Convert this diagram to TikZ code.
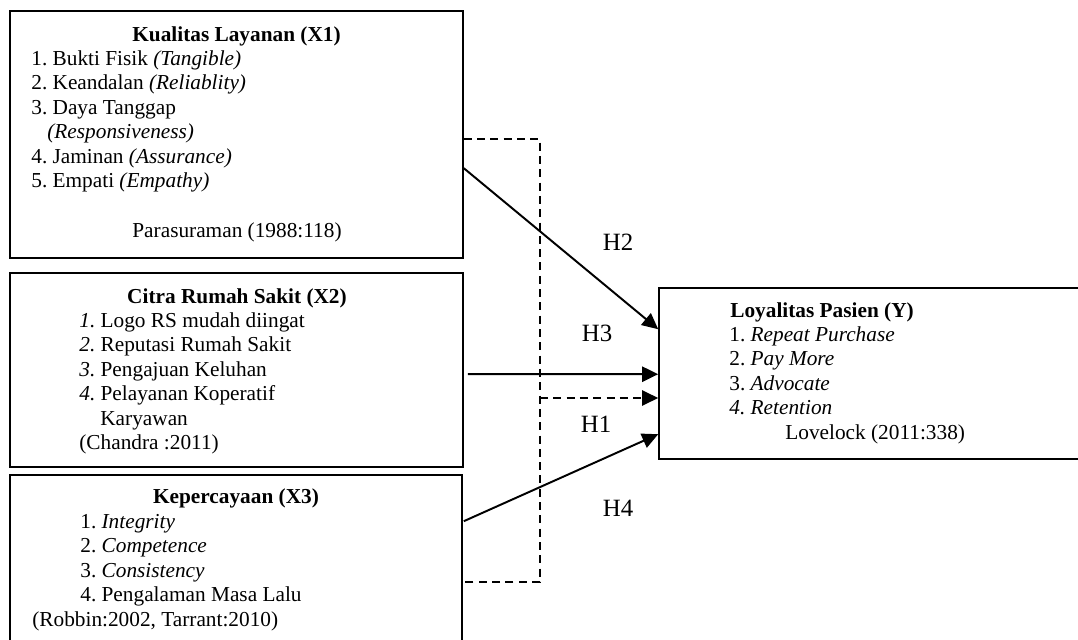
\documentclass[tikz,border=0pt]{standalone}
\usepackage{fontspec}
\setmainfont{Liberation Serif}
\usetikzlibrary{positioning, arrows.meta, calc, fit}

\newcommand{\bodyfont}{\fontsize{12}{13.8}\selectfont\frenchspacing}

\tikzset{
  varbox/.style={draw, line width=0.9pt, inner sep=0pt},
  item/.style={anchor=base west, inner sep=0pt},
  head/.style={anchor=base, inner sep=0pt, font=\bodyfont\bfseries},
  hyp/.style={->, line width=1.1pt},
  hypdash/.style={line width=1pt, dash pattern=on 4.5pt off 3pt},
  hlabel/.style={inner sep=0pt, font=\fontsize{14}{16}\selectfont}
}

\begin{document}
\begin{tikzpicture}[x=0.5634pt, y=-0.5634pt, >={Triangle[length=9pt, width=8.5pt]}, font=\bodyfont]

\useasboundingbox (0, 0) rectangle (1078, 640);
\clip (0, 0) rectangle (1078, 640);

% --- Kualitas Layanan (X1) ---
\node[varbox, fit={(10, 11) (463, 258)}] (x1) {};
\node[head] (x1t) at (236.5, 41) {Kualitas Layanan (X1)};
\foreach \i/\txt in {0/{1. Bukti Fisik \textit{(Tangible)}}, 1/{2. Keandalan \textit{(Reliablity)}},
  2/{3. Daya Tanggap}, 4/{4. Jaminan \textit{(Assurance)}}, 5/{5. Empati \textit{(Empathy)}}} {
  \node[item] (x1i\i) at (31, {65 + 24.5*\i}) {\txt};
}
\node[item] (x1r) at (47, 138.5) {\textit{(Responsiveness)}};
\node[head, font=\bodyfont] (x1s) at (237, 237) {Parasuraman (1988:118)};

% --- Citra Rumah Sakit (X2) ---
\node[varbox, fit={(10, 273) (463, 467)}] (x2) {};
\node[head] (x2t) at (237, 303) {Citra Rumah Sakit (X2)};
\foreach \i/\txt in {0/{\textit{1.} Logo RS mudah diingat}, 1/{\textit{2.} Reputasi Rumah Sakit},
  2/{\textit{3.} Pengajuan Keluhan}, 3/{\textit{4.} Pelayanan Koperatif}} {
  \node[item] (x2i\i) at (79, {327 + 24.5*\i}) {\txt};
}
\node[item] (x2k) at (100, 425) {Karyawan};
\node[item] (x2s) at (79, 449.5) {(Chandra :2011)};

% --- Kepercayaan (X3) ---
\node[varbox, fit={(10, 475) (462, 690)}] (x3) {};
\node[head] (x3t) at (236, 503) {Kepercayaan (X3)};
\foreach \i/\txt in {0/{1. \textit{Integrity}}, 1/{2. \textit{Competence}},
  2/{3. \textit{Consistency}}, 3/{4. Pengalaman Masa Lalu}} {
  \node[item] (x3i\i) at (80, {528 + 24.5*\i}) {\txt};
}
\node[item] (x3s) at (32, 626) {(Robbin:2002, Tarrant:2010)};

% --- Loyalitas Pasien (Y) ---
\node[varbox, fit={(659, 288) (1100, 459)}] (y) {};
\node[item, font=\bodyfont\bfseries] (yt) at (730, 317) {Loyalitas Pasien (Y)};
\foreach \i/\txt in {0/{1. \textit{Repeat Purchase}}, 1/{2. \textit{Pay More}},
  2/{3. \textit{Advocate}}, 3/{\textit{4. Retention}}} {
  \node[item] (yi\i) at (729, {341 + 24.5*\i}) {\txt};
}
\node[item] (ys) at (785, 439) {Lovelock (2011:338)};

% --- Simultaneous path (H1) ---
\coordinate (jt) at (540, 139);
\coordinate (jm) at (540, 398);
\coordinate (jb) at (540, 582);
\draw[hypdash] (x1.east |- jt) -- (jt) -- (jb) -- (x3.east |- jb);
\draw[hypdash, ->] (jm) -- (y.west |- jm);

% --- Partial paths ---
\draw[hyp] ($(x1.north east) + (0, 158)$) -- ($(y.north west) + (0, 42)$);
\draw[hyp] ($(x2.north east) + (4, 102)$) -- ($(y.north west) + (0, 87)$);
\draw[hyp] ($(x3.north east) + (1, 47)$) -- ($(y.north west) + (0, 147)$);

% --- Hypothesis labels ---
\node[hlabel] (h2) at (618, 242) {H2};
\node[hlabel] (h3) at (597, 333) {H3};
\node[hlabel] (h1) at (596, 424) {H1};
\node[hlabel] (h4) at (618, 508) {H4};

\end{tikzpicture}
\end{document}
